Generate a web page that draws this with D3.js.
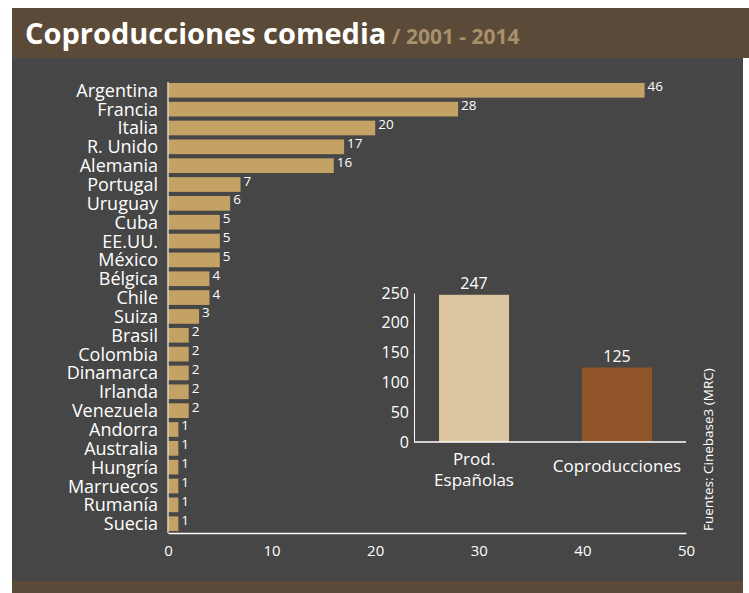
<!DOCTYPE html>
<html>
<head>
<meta charset="utf-8" />
<title>Coproducciones comedia</title>
<script src="https://cdn.jsdelivr.net/npm/d3@7/dist/d3.min.js"></script>
<style>
  body { margin: 0; background: #fff; }
  text { font-family: "Open Sans", "Noto Sans", sans-serif; }
</style>
</head>
<body>
<script>
var width = 749, height = 593;

// datos
var paises = ["Argentina","Francia","Italia","R. Unido","Alemania","Portugal","Uruguay","Cuba","EE.UU.","México","Bélgica","Chile","Suiza","Brasil","Colombia","Dinamarca","Irlanda","Venezuela","Andorra","Australia","Hungría","Marruecos","Rumanía","Suecia"];
var valores = [46,28,20,17,16,7,6,5,5,5,4,4,3,2,2,2,2,2,1,1,1,1,1,1];
var xTicks = [0,10,20,30,40,50];

var tipos = ["Prod. Españolas","Coproducciones"];
var totales = [247,125];
var yTicks = [0,50,100,150,200,250];

var svg = d3.select('body').append('svg').attr('width',width).attr('height',height);

// fondos
svg.append('rect').attr('x',12).attr('y',8).attr('width',737).attr('height',50).attr('fill','#5b4a37');
svg.append('rect').attr('x',12).attr('y',58).attr('width',731).attr('height',523).attr('fill','#464646');
svg.append('rect').attr('x',12).attr('y',581).attr('width',731).attr('height',12).attr('fill','#5b4a37');

// titulo
var title = svg.append('text').attr('x',25).attr('y',44);
title.append('tspan').text('Coproducciones comedia').attr('fill','#fff').attr('font-size',29).attr('font-weight',700);
title.append('tspan').text(' / 2001 - 2014').attr('fill','#a88f6c').attr('font-size',21).attr('font-weight',700);

// grafico principal
var x = d3.scaleLinear().domain([0,50]).range([168,686]);
var y = d3.scaleBand().domain(paises).range([82,532]).paddingInner(0.22).paddingOuter(0.05);

svg.selectAll('.bar').data(paises).enter().append('rect')
  .attr('x',x(0))
  .attr('y',function(d){ return y(d); })
  .attr('width',function(d,i){ return x(valores[i]) - x(0); })
  .attr('height',y.bandwidth())
  .attr('fill','#c4a266');

svg.selectAll('.val').data(paises).enter().append('text')
  .attr('x',function(d,i){ return x(valores[i]) + 3; })
  .attr('y',function(d){ return y(d) + y.bandwidth()/2 + 1; })
  .attr('fill','#fff').attr('font-size',13.5)
  .text(function(d,i){ return valores[i]; });

svg.selectAll('.lab').data(paises).enter().append('text')
  .attr('x',158)
  .attr('y',function(d){ return y(d) + y.bandwidth()/2 + 6.5; })
  .attr('text-anchor','end')
  .attr('fill','#fff').attr('font-size',18)
  .text(function(d){ return d; });

svg.append('line').attr('x1',x(0)).attr('x2',x(0)).attr('y1',82).attr('y2',533).attr('stroke','#ddd5c5').attr('stroke-width',1.5);

var xAxis = svg.append('g').attr('transform','translate(0,533)')
  .call(d3.axisBottom(x).tickValues(xTicks).tickSize(0).tickPadding(12));
xAxis.select('.domain').attr('stroke','#fff').attr('stroke-width',1.5);
xAxis.selectAll('text').attr('fill','#fff').attr('font-size',15).style('font-family','"Open Sans", sans-serif');

// grafico interior
var x2 = d3.scaleBand().domain(tipos).range([414,677]).paddingInner(0.51).paddingOuter(0.175);
var y2 = d3.scaleLinear().domain([0,250]).range([442,293]);

svg.selectAll('.bar2').data(tipos).enter().append('rect')
  .attr('x',function(d){ return x2(d); })
  .attr('y',function(d,i){ return y2(totales[i]); })
  .attr('width',x2.bandwidth())
  .attr('height',function(d,i){ return y2(0) - y2(totales[i]); })
  .attr('fill',function(d,i){ return ['#dcc6a0','#91552a'][i]; });

svg.selectAll('.val2').data(tipos).enter().append('text')
  .attr('x',function(d){ return x2(d) + x2.bandwidth()/2; })
  .attr('y',function(d,i){ return y2(totales[i]) - 6; })
  .attr('text-anchor','middle')
  .attr('fill','#fff').attr('font-size',16)
  .text(function(d,i){ return totales[i]; });

var yAxis2 = svg.append('g').attr('transform','translate(414,0)')
  .call(d3.axisLeft(y2).tickValues(yTicks).tickSize(0).tickPadding(5));
yAxis2.select('.domain').attr('stroke','#fff').attr('stroke-width',1);
yAxis2.selectAll('text').attr('fill','#fff').attr('font-size',16).style('font-family','"Open Sans", sans-serif');

svg.append('line').attr('x1',414).attr('x2',686).attr('y1',y2(0)).attr('y2',y2(0)).attr('stroke','#fff').attr('stroke-width',1.5);

// etiquetas de categoria
svg.append('text').attr('x',x2(tipos[0]) + x2.bandwidth()/2).attr('y',465).attr('text-anchor','middle')
  .attr('fill','#fff').attr('font-size',17).text('Prod.');
svg.append('text').attr('x',x2(tipos[0]) + x2.bandwidth()/2).attr('y',486).attr('text-anchor','middle')
  .attr('fill','#fff').attr('font-size',17).text('Españolas');
svg.append('text').attr('x',x2(tipos[1]) + x2.bandwidth()/2).attr('y',472).attr('text-anchor','middle')
  .attr('fill','#fff').attr('font-size',17).text('Coproducciones');

// fuente
svg.append('text').attr('transform','translate(713,531) rotate(-90)')
  .attr('fill','#fff').attr('font-size',13.5).text('Fuentes: Cinebase3 (MRC)');
</script>
</body>
</html>
